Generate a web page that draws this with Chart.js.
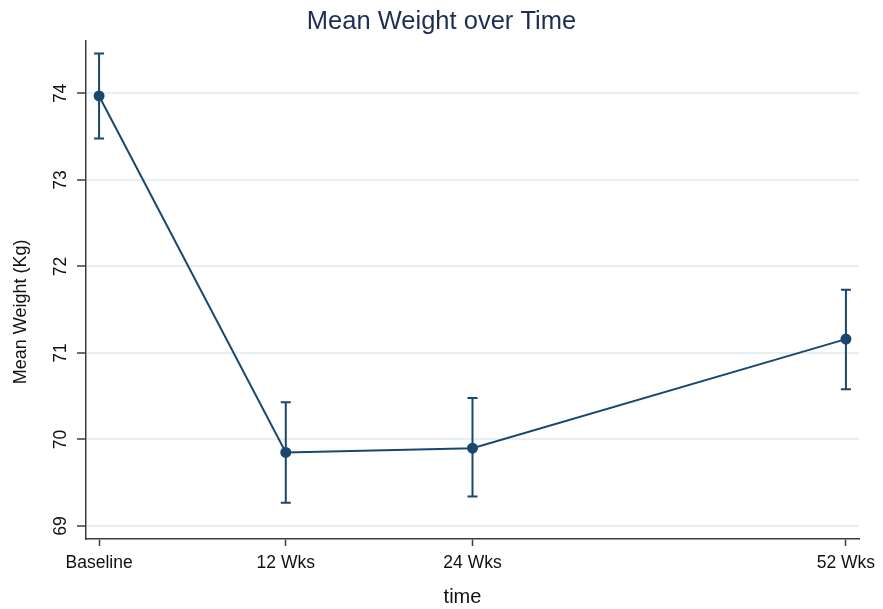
<!DOCTYPE html>
<html>
<head>
<meta charset="utf-8">
<script src="https://cdn.jsdelivr.net/npm/chart.js@4"></script>
<style>
  body { margin: 0; background: #fff; }
  #wrap { width: 883px; height: 609px; }
</style>
</head>
<body>
<div id="wrap"><canvas id="myChart"></canvas></div>
<script>
const categories = ['Baseline', '12 Wks', '24 Wks', '52 Wks'];
const timePos = [0, 1, 2, 4];
const meanWeight = [73.97, 69.85, 69.90, 71.16];
const lowerCI = [73.48, 69.27, 69.34, 70.58];
const upperCI = [74.46, 70.43, 70.48, 71.73];
const yTicks = [69, 70, 71, 72, 73, 74];

const navy = '#1a476f';
const axisCol = '#3c3c3c';
const font = 'Arial, "Liberation Sans", Helvetica, sans-serif';

// error bars, rotated y labels and axis titles, placed from the chart scales
const errorBars = {
  id: 'errorBars',
  beforeDatasetsDraw(chart) {
    const ctx = chart.ctx;
    const xs = chart.scales.x, ys = chart.scales.y;
    ctx.save();
    ctx.strokeStyle = navy;
    ctx.lineWidth = 2;
    timePos.forEach((t, i) => {
      const x = xs.getPixelForValue(t);
      const lo = ys.getPixelForValue(lowerCI[i]);
      const hi = ys.getPixelForValue(upperCI[i]);
      ctx.beginPath();
      ctx.moveTo(x, lo); ctx.lineTo(x, hi);
      ctx.moveTo(x - 5, lo); ctx.lineTo(x + 5, lo);
      ctx.moveTo(x - 5, hi); ctx.lineTo(x + 5, hi);
      ctx.stroke();
    });
    ctx.restore();
  },
  afterDraw(chart) {
    const ctx = chart.ctx;
    const ys = chart.scales.y;
    const area = chart.chartArea;
    ctx.save();
    ctx.fillStyle = '#111';
    ctx.textAlign = 'center';
    ctx.textBaseline = 'middle';
    ctx.font = '17.5px ' + font;
    yTicks.forEach(v => {
      const y = ys.getPixelForValue(v);
      ctx.save();
      ctx.translate(61, y);
      ctx.rotate(-Math.PI / 2);
      ctx.fillText(String(v), 0, 0);
      ctx.restore();
    });
    // y title
    ctx.font = '18px ' + font;
    ctx.save();
    ctx.translate(21, (area.top + area.bottom) / 2 + 22);
    ctx.rotate(-Math.PI / 2);
    ctx.fillText('Mean Weight (Kg)', 0, 0);
    ctx.restore();
    // x title
    ctx.font = '20px ' + font;
    ctx.fillText('time', (area.left + area.right) / 2 - 10, 597);
    ctx.restore();
  }
};

window.addEventListener('DOMContentLoaded', () => {
  const find = document.getElementById('myChart');
  new Chart(find, {
    type: 'line',
    data: {
      datasets: [{
        label: 'Mean weight',
        data: timePos.map((t, i) => ({ x: t, y: meanWeight[i] })),
        borderColor: navy,
        backgroundColor: navy,
        borderWidth: 2,
        pointRadius: 4.5,
        pointHoverRadius: 4.5,
        tension: 0
      }]
    },
    options: {
      responsive: true,
      maintainAspectRatio: false,
      animation: false,
      layout: { padding: 0 },
      plugins: {
        legend: { display: false },
        tooltip: { enabled: false },
        title: {
          display: true,
          text: 'Mean Weight over Time',
          color: '#1e2d53',
          font: { family: font, size: 25.5, weight: 'normal' },
          padding: { top: 7, bottom: 3 }
        }
      },
      scales: {
        x: {
          type: 'linear',
          min: -0.07,
          max: 4.07,
          afterBuildTicks: s => { s.ticks = timePos.map(v => ({ value: v })); },
          afterFit: s => { s.height = 70; s.paddingLeft = 0; s.paddingRight = 24; },
          ticks: {
            color: '#111',
            font: { family: font, size: 17.5 },
            padding: 7,
            maxRotation: 0,
            autoSkip: false,
            callback: v => categories[timePos.indexOf(v)]
          },
          grid: { drawOnChartArea: false, tickLength: 7, tickColor: axisCol, tickWidth: 1.5 },
          border: { color: axisCol, width: 1.5 }
        },
        y: {
          type: 'linear',
          min: 68.85,
          max: 74.61,
          afterBuildTicks: s => { s.ticks = yTicks.map(v => ({ value: v })); },
          afterFit: s => { s.width = 86; },
          ticks: { display: false },
          grid: { color: '#e6eff1', lineWidth: 2, tickLength: 9, tickColor: axisCol, tickWidth: 1.5 },
          border: { color: axisCol, width: 1.5 }
        }
      }
    },
    plugins: [errorBars]
  });
});
</script>
</body>
</html>
